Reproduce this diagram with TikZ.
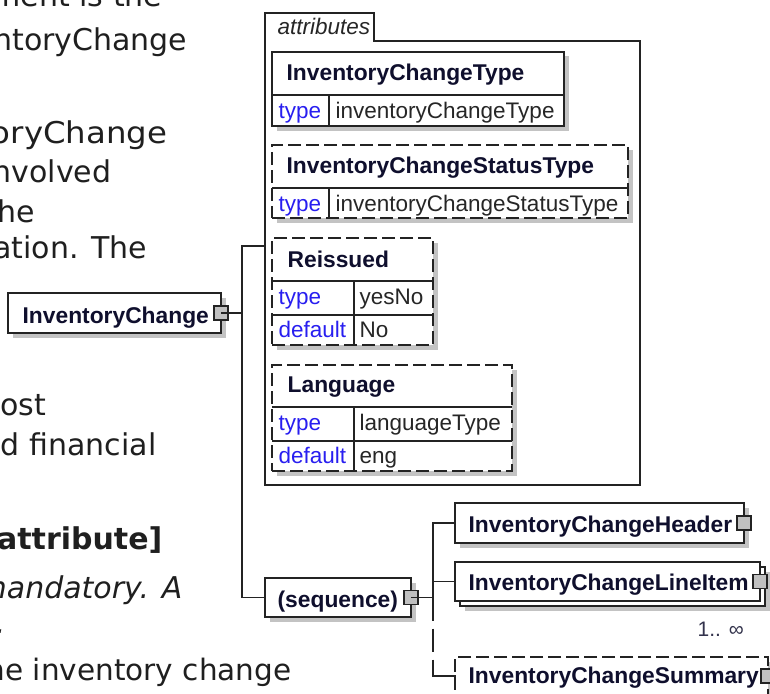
\documentclass[tikz,border=0pt]{standalone}
\usepackage{fontspec}
\setmainfont{Liberation Sans}
\newfontfamily\verd{DejaVu Sans}
\newfontfamily\verdw[FakeStretch=1.08]{DejaVu Sans}
\usetikzlibrary{shadows}
\definecolor{nm}{RGB}{15,15,45}
\definecolor{lbl}{RGB}{40,30,240}
\definecolor{ln}{RGB}{35,35,35}
\definecolor{shd}{RGB}{195,195,195}
\definecolor{sqf}{RGB}{192,192,192}
\begin{document}
\begin{tikzpicture}[x=1pt,y=-1pt,line width=1.3pt,draw=ln,
  box/.style={draw=ln,fill=white,inner sep=0,outer sep=0,anchor=north west,
    drop shadow={shadow xshift=4.5pt,shadow yshift=-4.5pt,fill=shd,opacity=1}},
  plainbox/.style={draw=ln,fill=white,inner sep=0,outer sep=0,anchor=north west},
  opt/.style={dash pattern=on 13pt off 5pt},
  sq/.style={draw=ln,fill=sqf,minimum size=14pt,inner sep=0,line width=1.1pt},
  nmt/.style={font=\fontsize{22.8}{27}\selectfont\bfseries,text=nm,anchor=base west,inner sep=0},
  lb/.style={font=\fontsize{22.5}{27}\selectfont,text=lbl,anchor=base west,inner sep=0},
  vl/.style={font=\fontsize{22.5}{27}\selectfont,text=black!85,anchor=base west,inner sep=0},
  lt/.style={font=\verd\fontsize{30}{36}\selectfont,anchor=base east,inner sep=0,text=black!88}]
\useasboundingbox (0,0) rectangle (770,693);
\clip (0,0) rectangle (770,693);
\fill[white] (0,0) rectangle (770,693);

% background document text (cut off at the left)
\node[lt] (p1) at (163,7) {ment is the};
\node[lt] (p2) at (188,50) {ntoryChange};
\node[lt,font=\verdw\fontsize{30}{36}\selectfont] (p3) at (168,143) {oryChange};
\node[lt] (p4) at (112,182) {nvolved};
\node[lt] (p5) at (36,222) {he};
\node[lt] (p6) at (148,258) {ation. The};
\node[lt] (p7) at (47,415) {ost};
\node[lt] (p8) at (157,455) {d financial};
\node[lt,font=\verd\fontsize{30}{36}\selectfont\bfseries] (p9) at (163,549) {[attribute]};
\node[lt,font=\verd\fontsize{30}{36}\selectfont\itshape] (p10) at (183,598) {mandatory. A};
\node[lt,font=\verd\fontsize{30}{36}\selectfont\itshape] (p11) at (6,633) {.};
\node[lt,font=\verd\fontsize{29.5}{36}\selectfont] (p12) at (292,680) {ne inventory change};

% root element
\node[box,minimum width=213pt,minimum height=40pt] (ic) at (8,293) {};
\node[nmt] (ict) at (22,323) {InventoryChange};
\node[sq] (icsq) at (ic.east) {};

% attributes group
\node[inner sep=0,outer sep=0,minimum width=375pt,minimum height=444pt,anchor=north west] (attr) at (265,41) {};
\draw (attr.south west) -- (265,13) -- (374,13) -- (374,41) -- (attr.north east) -- (attr.south east) -- cycle;
\node[font=\fontsize{22.5}{27}\selectfont\itshape,text=black!85,anchor=base west,inner sep=0] (attrl) at (277,35) {attributes};

% InventoryChangeType
\node[box,minimum width=292pt,minimum height=74pt] (t1) at (272,52) {};
\draw (272,95) -- (564,95) (329,95) -- (329,126);
\node[nmt] (t1n) at (286,81) {InventoryChangeType};
\node[lb] (t1k) at (278,118) {type};
\node[vl] (t1v) at (335,118) {inventoryChangeType};

% InventoryChangeStatusType
\node[box,opt,minimum width=356pt,minimum height=73pt] (t2) at (272,145) {};
\draw (272,188) -- (628,188) (329,188) -- (329,218);
\node[nmt] (t2n) at (286,173) {InventoryChangeStatusType};
\node[lb] (t2k) at (278,211) {type};
\node[vl] (t2v) at (335,211) {inventoryChangeStatusType};

% Reissued
\node[box,opt,minimum width=161pt,minimum height=107pt] (t3) at (272,238) {};
\draw (272,281) -- (433,281) (272,315) -- (433,315) (354,281) -- (354,345);
\node[nmt] (t3n) at (287,267) {Reissued};
\node[lb] (t3k) at (278,304) {type};
\node[vl] (t3v) at (359,304) {yesNo};
\node[lb] (t3d) at (278,337) {default};
\node[vl] (t3e) at (359,337) {No};

% Language
\node[box,opt,minimum width=240pt,minimum height=106pt] (t4) at (272,365) {};
\draw (272,407) -- (512,407) (272,441) -- (512,441) (354,407) -- (354,471);
\node[nmt] (t4n) at (287,392) {Language};
\node[lb] (t4k) at (278,430) {type};
\node[vl] (t4v) at (359,430) {languageType};
\node[lb] (t4d) at (278,463) {default};
\node[vl] (t4e) at (359,463) {eng};

% sequence
\node[box,minimum width=146pt,minimum height=39pt] (seq) at (265,578) {};
\node[nmt] (seqt) at (277,607) {(sequence)};
\node[sq] (seqsq) at (seq.east) {};

% children
\node[box,minimum width=289pt,minimum height=40pt] (hdr) at (455,503) {};
\node[nmt] (hdrt) at (468,532) {InventoryChangeHeader};
\node[sq] (hdrsq) at (hdr.east) {};

\node[box,minimum width=305pt,minimum height=39pt] (lib) at (460,567) {};
\node[plainbox,minimum width=305pt,minimum height=39pt] (li) at (455,562) {};
\node[nmt] (lit) at (468,590) {InventoryChangeLineItem};
\node[sq] (lisq) at (li.east) {};
\node[font=\fontsize{21}{25}\selectfont,text=nm!85,anchor=base west,inner sep=0] (mult) at (697,636) {1.. ∞};

\node[box,opt,minimum width=313pt,minimum height=38pt] (sum) at (455,657) {};
\node[nmt] (sumt) at (468,683) {InventoryChangeSummary};
\node[sq] (sumsq) at (sum.east) {};

% connectors
\coordinate (ja) at (242,246);
\coordinate (ka) at (433,0);
\draw (ic.east) -- (ic.east -| ja);
\draw (ja -| attr.west) -- (ja) -- (seq.west -| ja) -- (seq.west);
\draw (seq.east) -- (seq.east -| ka);
\draw (hdr.west) -- (hdr.west -| ka) -- (seq.east -| ka);
\draw (li.west -| ka) -- (li.west);
\draw[dash pattern=on 23pt off 8pt] (seq.east -| ka) -- (sum.west -| ka);
\draw[line cap=rect] (sum.west -| ka) -- (sum.west);
\end{tikzpicture}
\end{document}
